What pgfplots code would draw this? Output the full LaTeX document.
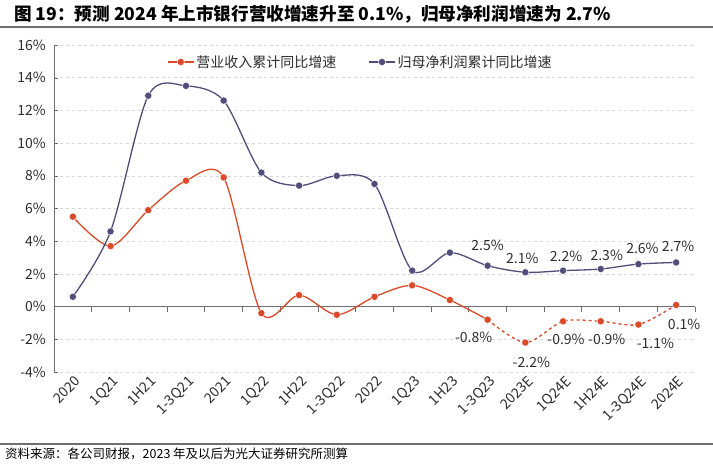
\documentclass[border=0pt]{standalone}
\usepackage{fontspec}
\setmainfont{Noto Sans CJK SC}
\usepackage{pgfplots}
\usepackage{pgfplotstable}
\pgfplotsset{compat=1.18}

\definecolor{rev}{RGB}{218,74,40}
\definecolor{prof}{RGB}{82,76,122}
\definecolor{txt}{RGB}{45,45,45}
\definecolor{rule}{RGB}{110,110,110}

% 营业收入累计同比增速 (solid part, then estimates dashed)
\pgfplotstableread{
x y
0 5.5
1 3.7
2 5.9
3 7.7
4 7.9
5 -0.4
6 0.7
7 -0.5
8 0.6
9 1.3
10 0.4
11 -0.8
}\revsolid
\pgfplotstableread{
x y
11 -0.8
12 -2.2
13 -0.9
14 -0.9
15 -1.1
16 0.1
}\revdash
% 归母净利润累计同比增速
\pgfplotstableread{
x y
0 0.6
1 4.6
2 12.9
3 13.5
4 12.6
5 8.2
6 7.4
7 8.0
8 7.5
9 2.2
10 3.3
11 2.5
12 2.1
13 2.2
14 2.3
15 2.6
16 2.7
}\profit
% labels: x y dx dy
\pgfplotstableread{
x y dx dy
11 2.5 0 12
12 2.1 -3 5
13 2.2 3 5
14 2.3 6 5
15 2.6 4 7
16 2.7 2 7
}\proflab
\pgfplotstableread{
x y dx dy
11 -0.8 -14 -9
12 -2.2 6 -11
13 -0.9 3 -9
14 -0.9 6 -9
15 -1.1 17 -10
16 0.1 8 -11
}\revlab

\begin{document}
\begin{tikzpicture}
\useasboundingbox (0,0) rectangle (713pt,-465pt);
\node[anchor=west, font=\fontsize{17.6}{20}\selectfont\bfseries, text=black, inner sep=0pt]
  at (14pt,-14pt) {图 19：预测 2024 年上市银行营收增速升至 0.1\%，归母净利润增速为 2.7\%};
\draw[rule, line width=1.4pt] (0pt,-27pt) -- (713pt,-27pt);
\draw[rule, line width=1.4pt] (0pt,-444pt) -- (713pt,-444pt);
\node[anchor=west, font=\fontsize{12.5}{14}\selectfont, text=black, inner sep=0pt]
  at (5pt,-454pt) {资料来源：各公司财报，2023 年及以后为光大证券研究所测算};

\begin{axis}[
  at={(54pt,-372pt)}, anchor=south west,
  scale only axis, width=641pt, height=327pt,
  xmin=-0.5, xmax=16.5, ymin=-4, ymax=16,
  clip=false,
  axis x line*=bottom, axis y line*=left,
  x axis line style={draw=none},
  y axis line style={rule, line width=0.8pt},
  xtick={0,1,...,16},
  xticklabels={2020,1Q21,1H21,1-3Q21,2021,1Q22,1H22,1-3Q22,2022,1Q23,1H23,1-3Q23,2023E,1Q24E,1H24E,1-3Q24E,2024E},
  major x tick style={draw=none},
  ytick={-4,-2,...,16},
  yticklabel={\pgfmathprintnumber{\tick}\%},
  /pgf/number format/assume math mode=true,
  major tick length=4pt,
  tick align=inside,
  y tick style={rule},
  ymajorgrids,
  grid style={dashed, gray!30, line width=0.5pt},
  tick label style={font=\fontsize{14}{16}\selectfont, text=txt},
  xticklabel style={rotate=45, anchor=north east, inner sep=1pt, yshift=-2pt},
  yticklabel style={inner sep=2pt, xshift=-6pt},
  legend style={at={(0.478,0.948)}, anchor=center, draw=none, fill=none,
    font=\fontsize{14}{16}\selectfont, text=txt, legend columns=2,
    /tikz/every even column/.append style={column sep=30pt}},
  legend image code/.code={\draw[mark repeat=2, mark phase=2] plot coordinates {(0pt,0pt) (13pt,0pt) (26pt,0pt)};},
]
\draw[rule, line width=0.8pt] (axis cs:-0.5,0) -- (axis cs:16.5,0);
\pgfplotsinvokeforeach{0.5,1.5,...,16.5}{\draw[rule, line width=0.8pt] (axis cs:#1,0) -- ++(0pt,-5pt);}

\addplot[rev, line width=1.3pt, smooth, mark=*, mark size=3.6pt,
  mark options={solid, fill=rev, draw=white, line width=0.4pt}] table {\revsolid};
\addlegendentry{营业收入累计同比增速}
\addplot[rev, line width=1.3pt, dashed, smooth, mark=*, mark size=3.6pt,
  mark options={solid, fill=rev, draw=white, line width=0.4pt}, forget plot] table {\revdash};
\addplot[prof, line width=1.3pt, smooth, mark=*, mark size=3.6pt,
  mark options={solid, fill=prof, draw=white, line width=0.4pt}] table {\profit};
\addlegendentry{归母净利润累计同比增速}

\addplot[draw=none, forget plot, nodes near coords={\pgfmathprintnumber[fixed, precision=1, fixed zerofill]{\pgfplotspointmeta}\%},
  point meta=y, visualization depends on={\thisrow{dx} \as \dx},
  visualization depends on={\thisrow{dy} \as \dy},
  every node near coord/.append style={anchor=south, xshift=\dx pt, yshift=\dy pt,
    font=\fontsize{14}{16}\selectfont, text=txt}] table {\proflab};
\addplot[draw=none, forget plot, nodes near coords={\pgfmathprintnumber[fixed, precision=1, fixed zerofill]{\pgfplotspointmeta}\%},
  point meta=y, visualization depends on={\thisrow{dx} \as \dx},
  visualization depends on={\thisrow{dy} \as \dy},
  every node near coord/.append style={anchor=north, xshift=\dx pt, yshift=\dy pt,
    font=\fontsize{14}{16}\selectfont, text=txt}] table {\revlab};
\end{axis}
\end{tikzpicture}
\end{document}
